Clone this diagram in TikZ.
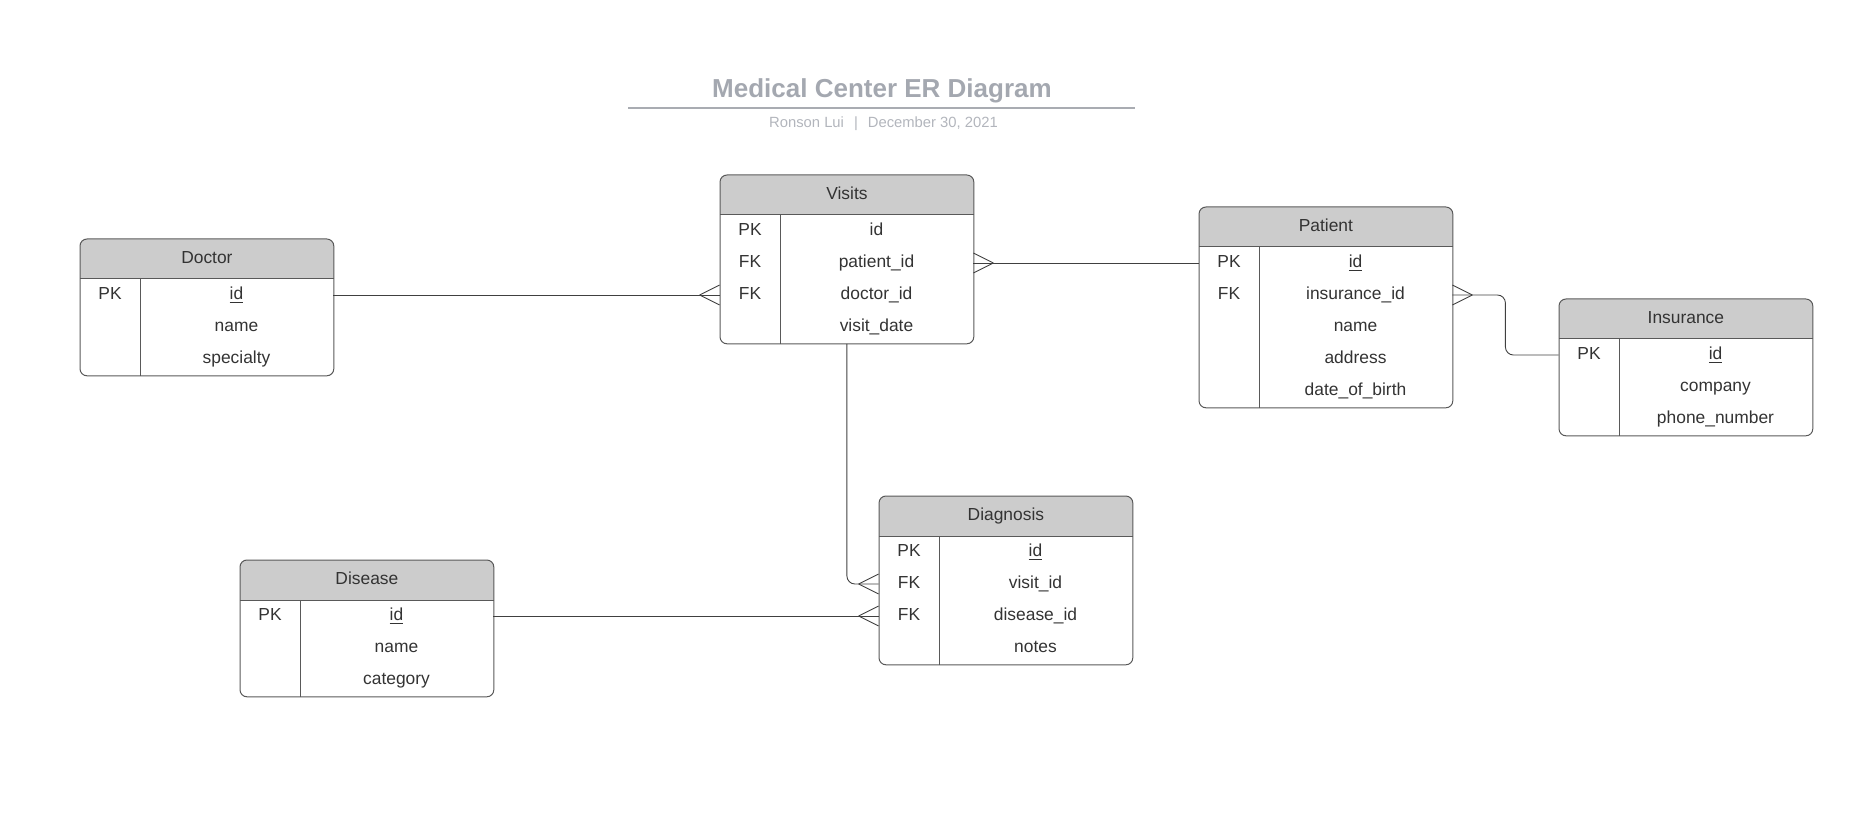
\documentclass[tikz,border=0pt]{standalone}
\usepackage{fontspec}
\setmainfont{Liberation Sans}
\usepackage{xcolor}
\usetikzlibrary{positioning}

\definecolor{headgray}{HTML}{CCCCCC}
\definecolor{titlegray}{HTML}{A4A8B0}
\definecolor{inkgray}{HTML}{333333}

% entity box: name, top-left corner, title, number of rows, key/field list
\newcommand{\entity}[5]{%
  \node[minimum width=126.5pt, minimum height={20pt+16pt*#4}, inner sep=0pt, anchor=north west] (#1) at (#2) {};
  \begin{scope}
    \clip[rounded corners=3.5pt] (#1.north west) rectangle (#1.south east);
    \fill[headgray] (#1.north west) rectangle ([yshift=-20pt]#1.north east);
  \end{scope}
  \draw[frame, rounded corners=3.5pt] (#1.north west) rectangle (#1.south east);
  \draw[frame] ([yshift=-20pt]#1.north west) -- ([yshift=-20pt]#1.north east);
  \draw[frame] ([xshift=30pt, yshift=-20pt]#1.north west) -- ([xshift=30pt]#1.south west);
  \node[cell] (#1-title) at ([yshift=-10pt]#1.north) {#3};
  \foreach \key/\field [count=\i] in {#5} {
    \node[cell, minimum width=30pt] (#1-key\i) at ([xshift=15pt, yshift={-12pt-16pt*\i}]#1.north west) {\key};
    \node[cell, minimum width=96.5pt] (#1-\i) at ([xshift=78.25pt, yshift={-12pt-16pt*\i}]#1.north west) {\field};
  }%
}
% crow's foot at an entity edge
\newcommand{\crowfoot}[2]{%
  \draw[link] (#1) ++(#2,0) -- ++({-(#2)},10) (#1) ++(#2,0) -- ++({-(#2)},-10);}

\begin{document}
\begin{tikzpicture}
  [x=0.5pt, y=-0.5pt,
   frame/.style={draw=black!65, line width=0.5pt},
   link/.style={draw=black!75, line width=0.45pt},
   cell/.style={text=inkgray, font=\fontsize{8.7}{10}\selectfont, inner sep=0pt, text height=6.4pt, text depth=1.8pt}]
  \useasboundingbox (0,0) rectangle (1851,839);

  \node[anchor=base, text=titlegray, font=\fontsize{13}{15}\selectfont\bfseries] (title) at (882,98) {Medical Center ER Diagram};
  \draw[titlegray!90!black!80, line width=1pt] (628,108) -- (1135,108);
  \node[anchor=base, text=titlegray!85, font=\fontsize{7.4}{9}\selectfont] (byline) at (883.5,128) {Ronson Lui\hspace{5pt}|\hspace{5pt}December 30, 2021};

  \entity{doctor}{80,239}{Doctor}{3}{PK/\underline{id}, {}/name, {}/specialty}
  \entity{visits}{720,175}{Visits}{4}{PK/id, FK/patient\_id, FK/doctor\_id, {}/visit\_date}
  \entity{patient}{1199,207}{Patient}{5}{PK/\underline{id}, FK/insurance\_id, {}/name, {}/address, {}/date\_of\_birth}
  \entity{insurance}{1559,299}{Insurance}{3}{PK/\underline{id}, {}/company, {}/phone\_number}
  \entity{diagnosis}{879,496}{Diagnosis}{4}{PK/\underline{id}, FK/visit\_id, FK/disease\_id, {}/notes}
  \entity{disease}{240,560}{Disease}{3}{PK/\underline{id}, {}/name, {}/category}

  \foreach \from/\to in {doctor-1/visits-key3, visits-2/patient-key1, disease-1/diagnosis-key3}
    \draw[link] (\from.east) -- (\to.west);
  \draw[link, rounded corners=4pt] (patient-2.east) -- ++(53,0) |- (insurance-key1.west);
  \draw[link, rounded corners=4pt] (visits.south) |- (diagnosis-key2.west);

  \foreach \at/\dir in {visits-key3.west/-20, visits-2.east/20, patient-2.east/20, diagnosis-key2.west/-20, diagnosis-key3.west/-20}
    \crowfoot{\at}{\dir};
\end{tikzpicture}
\end{document}
